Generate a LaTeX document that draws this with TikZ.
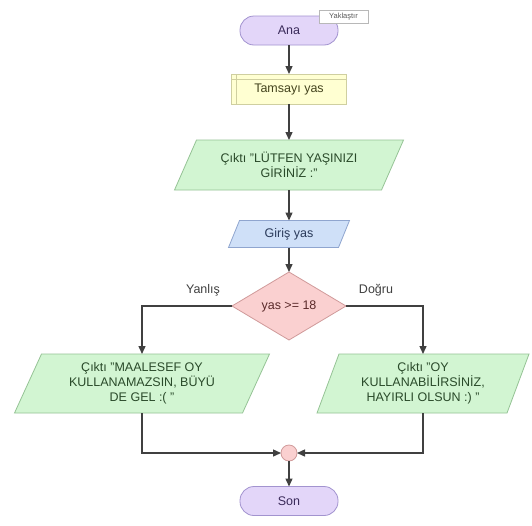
\documentclass[tikz,border=0pt]{standalone}
\usepackage{fontspec}
\setmainfont{Liberation Sans}
\usetikzlibrary{shapes.geometric,arrows.meta,backgrounds,shadows}

\definecolor{termfill}{HTML}{E3D6F9}
\definecolor{termline}{HTML}{A293CF}
\definecolor{termtext}{HTML}{3A2A5A}
\definecolor{declfill}{HTML}{FFFFD2}
\definecolor{declline}{HTML}{CFCFA0}
\definecolor{decltext}{HTML}{44441E}
\definecolor{outfill}{HTML}{D2F5D2}
\definecolor{outline}{HTML}{95C395}
\definecolor{outtext}{HTML}{2A4A2A}
\definecolor{infill}{HTML}{CFE0F8}
\definecolor{inline}{HTML}{8FA5CF}
\definecolor{intext}{HTML}{2A3A5A}
\definecolor{decfill}{HTML}{FAD0D0}
\definecolor{decline}{HTML}{D09A9A}
\definecolor{dectext}{HTML}{5A2A2A}
\definecolor{wire}{HTML}{404040}

% background parallelogram behind a text node: name, slant, style
\newcommand\parafill[3]{%
  \begin{pgfonlayer}{background}
    \draw[#3] ([xshift=#2/2]#1.north west) -- ([xshift=#2/2]#1.north east)
      -- ([xshift=-#2/2]#1.south east) -- ([xshift=-#2/2]#1.south west) -- cycle;
  \end{pgfonlayer}}

\begin{document}
\begin{tikzpicture}[x=1pt,y=-1pt,
  font=\fontsize{12.5}{15}\selectfont,
  terminal/.style={rectangle, rounded corners=14pt, fill=termfill, draw=termline,
    line width=0.8pt, text=termtext, minimum width=98pt, minimum height=29pt, outer sep=0pt},
  declbox/.style={rectangle, fill=declfill, draw=declline, line width=0.8pt,
    text=decltext, minimum width=115pt, minimum height=30pt, outer sep=0pt},
  iotext/.style={rectangle, align=center, inner sep=0pt, outer sep=0pt},
  outshape/.style={fill=outfill, draw=outline, line width=0.8pt},
  inshape/.style={fill=infill, draw=inline, line width=0.8pt},
  decision/.style={diamond, aspect=1.7, fill=decfill, draw=decline, line width=0.8pt,
    text=dectext, minimum width=114pt, minimum height=68pt, inner sep=0pt, outer sep=0pt},
  joint/.style={circle, fill=decfill, draw=decline, line width=0.8pt,
    minimum size=16pt, inner sep=0pt, outer sep=0pt},
  flow/.style={draw=wire, line width=1.4pt, -{Triangle[length=8pt,width=7pt]}},
  branch/.style={text=wire},
  tooltip/.style={rectangle, fill=white, draw=black!28, line width=0.5pt,
    text=black!65, font=\fontsize{7.5}{8}\selectfont, minimum width=49pt,
    minimum height=13pt, inner sep=1pt,
    drop shadow={shadow xshift=1.2pt, shadow yshift=-1.2pt, opacity=0.25}}
]
\begin{pgfonlayer}{background}
  \fill[white] (0,0) rectangle (532,525);
\end{pgfonlayer}
\useasboundingbox (0,0) rectangle (532,525);

% start and declaration
\node[terminal] (ana) at (289,30.5) {Ana};
\node[declbox] (decl) at (289,89) {Tamsayı yas};
\draw[declline, line width=0.8pt] ([xshift=5pt]decl.north west) -- ([xshift=5pt]decl.south west);
\draw[declline, line width=0.8pt] ([yshift=-5pt]decl.north west) -- ([yshift=-5pt]decl.north east);

% prompt and input
\node[iotext, text=outtext, minimum width=207pt, minimum height=50pt] (ask) at (289,165)
  {Çıktı "LÜTFEN YAŞINIZI\\GİRİNİZ :"};
\parafill{ask}{22}{outshape}
\node[iotext, text=intext, minimum width=110pt, minimum height=27pt] (inp) at (289,234)
  {Giriş yas};
\parafill{inp}{11}{inshape}

% test
\node[decision] (test) at (289,306) {yas >= 18};

% outputs
\node[iotext, text=outtext, minimum width=228pt, minimum height=59pt] (no) at (142,383.5)
  {Çıktı "MAALESEF OY\\KULLANAMAZSIN, BÜYÜ\\DE GEL :( "};
\parafill{no}{27}{outshape}
\node[iotext, text=outtext, minimum width=190pt, minimum height=59pt] (yes) at (423,383.5)
  {Çıktı "OY\\KULLANABİLİRSİNİZ,\\HAYIRLI OLSUN :) "};
\parafill{yes}{22}{outshape}

% merge and end
\node[joint] (join) at (289,453) {};
\node[terminal] (son) at (289,501) {Son};

% branch labels
\node[branch] (lno) at (203,290) {Yanlış};
\node[branch] (lyes) at (376,290) {Doğru};

% connectors
\draw[flow] (ana) -- (decl);
\draw[flow] (decl) -- (ask);
\draw[flow] (ask) -- (inp);
\draw[flow] (inp) -- (test);
\draw[flow] (test.west) -| (no.north);
\draw[flow] (test.east) -| (yes.north);
\draw[flow] (no.south) |- (join.west);
\draw[flow] (yes.south) |- (join.east);
\draw[flow] (join) -- (son);

% hover hint
\node[tooltip] (hint) at (343.5,16.5) {Yaklaştır};
\end{tikzpicture}
\end{document}
